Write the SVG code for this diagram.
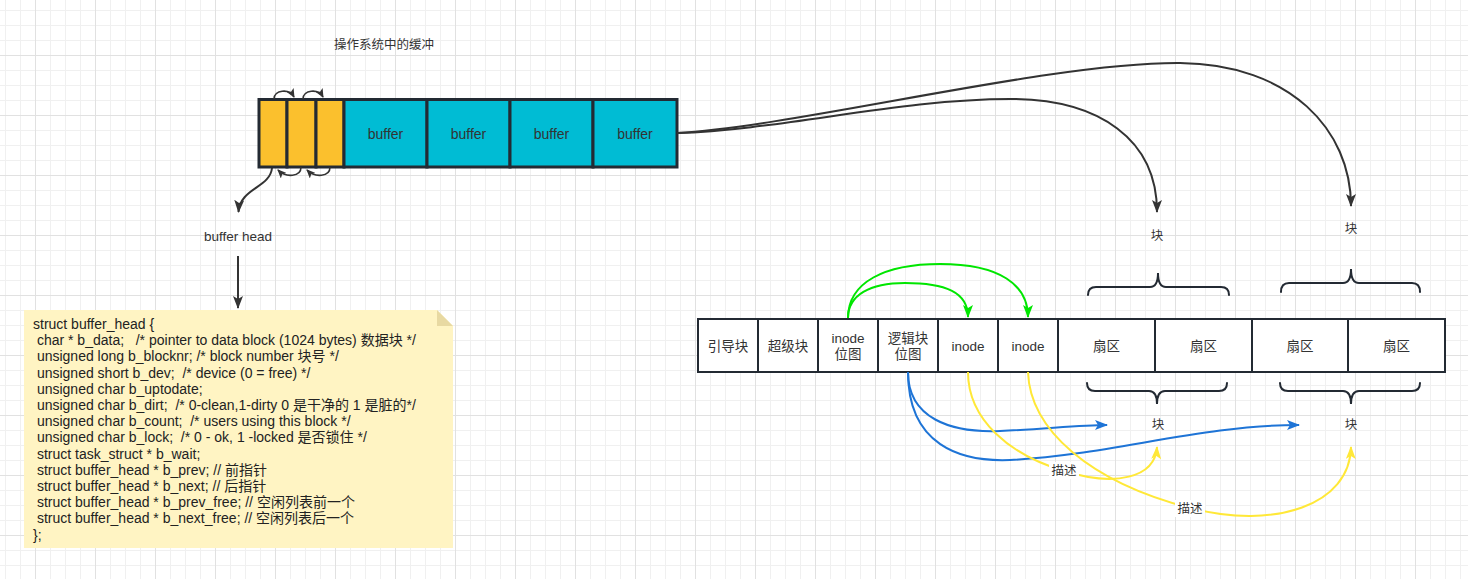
<svg xmlns="http://www.w3.org/2000/svg" width="1468" height="579" viewBox="0 0 1468 579">
  <defs>
    <pattern id="grid" x="35" y="55" width="60" height="60" patternUnits="userSpaceOnUse">
      <rect width="60" height="60" fill="#ffffff"/>
      <path d="M15.5 0V60M30.5 0V60M45.5 0V60M0 15.5H60M0 30.5H60M0 45.5H60" stroke="#f0f0f0" stroke-width="1" fill="none"/>
      <path d="M0.5 0V60M0 0.5H60" stroke="#e1e1e1" stroke-width="1" fill="none"/>
    </pattern>
    <marker id="arrDark" markerUnits="userSpaceOnUse" markerWidth="14" markerHeight="10" refX="12" refY="5" orient="auto">
      <path d="M0,0 L13,5 L0,10 L3,5 Z" fill="#333333"/>
    </marker>
    <marker id="arrSmall" markerUnits="userSpaceOnUse" markerWidth="10" markerHeight="8" refX="8" refY="4" orient="auto">
      <path d="M0,0 L9,4 L0,8 L2,4 Z" fill="#333333"/>
    </marker>
    <marker id="arrGreen" markerUnits="userSpaceOnUse" markerWidth="14" markerHeight="10" refX="12" refY="5" orient="auto">
      <path d="M0,0 L13,5 L0,10 L3,5 Z" fill="#00e600"/>
    </marker>
    <marker id="arrBlue" markerUnits="userSpaceOnUse" markerWidth="14" markerHeight="10" refX="12" refY="5" orient="auto">
      <path d="M0,0 L13,5 L0,10 L3,5 Z" fill="#1e74d6"/>
    </marker>
    <marker id="arrYellow" markerUnits="userSpaceOnUse" markerWidth="14" markerHeight="10" refX="12" refY="5" orient="auto">
      <path d="M0,0 L13,5 L0,10 L3,5 Z" fill="#ffe838"/>
    </marker>
  </defs>
  <style>
    text { font-family: "Liberation Sans", "Noto Sans CJK SC", sans-serif; fill: #333333; }
    .lbl { font-size: 13.5px; text-anchor: middle; dominant-baseline: central; }
    .code { font-size: 14px; fill: #222222; }
    .hdr { fill: #fbc02d; stroke: #232a33; stroke-width: 3; }
    .buf { fill: #00bcd4; stroke: #232a33; stroke-width: 3; }
    .cell { fill: #ffffff; stroke: #232a33; stroke-width: 2; }
    .brace { fill: none; stroke: #232a33; stroke-width: 2; stroke-linecap: round; }
    .link { fill: none; stroke-width: 2; }
    .dark { stroke: #333333; marker-end: url(#arrDark); }
    .small { stroke: #333333; stroke-width: 1.6; marker-end: url(#arrSmall); }
    .green { stroke: #00e600; marker-end: url(#arrGreen); }
    .blue { stroke: #1e74d6; marker-end: url(#arrBlue); }
    .yellow { stroke: #ffe838; marker-end: url(#arrYellow); }
  </style>

  <rect width="1468" height="579" fill="url(#grid)"/>

  <!-- caption above the buffer row -->
  <g id="title">
    <text class="lbl" x="384" y="45" style="font-size:12.5px">操作系统中的缓冲</text>
  </g>

  <!-- buffer heads + data buffers -->
  <g id="buffer-row">
    <rect class="hdr" x="259" y="99.5" width="28" height="67.5"/>
    <rect class="hdr" x="287" y="99.5" width="29" height="67.5"/>
    <rect class="hdr" x="316" y="99.5" width="28" height="67.5"/>
    <rect class="buf" x="344" y="99.5" width="83" height="67.5"/>
    <rect class="buf" x="427" y="99.5" width="83" height="67.5"/>
    <rect class="buf" x="510" y="99.5" width="83" height="67.5"/>
    <rect class="buf" x="593" y="99.5" width="84" height="67.5"/>
    <text class="lbl" x="385.5" y="134" style="font-size:14px">buffer</text>
    <text class="lbl" x="468.5" y="134" style="font-size:14px">buffer</text>
    <text class="lbl" x="551.5" y="134" style="font-size:14px">buffer</text>
    <text class="lbl" x="635" y="134" style="font-size:14px">buffer</text>
  </g>

  <g id="buffer-head-label">
    <text class="lbl" x="238" y="236">buffer head</text>
  </g>

  <!-- struct buffer_head note -->
  <g id="struct-note">
    <path d="M24 310 H437 L453 326 V548 H24 Z" fill="#fff4c3"/>
    <path d="M437 310 V326 H453 Z" fill="#e8d9a2"/>
    <text class="code" xml:space="preserve">
      <tspan x="33" y="329">struct buffer_head {</tspan>
      <tspan x="33" y="345.2"> char * b_data;   /* pointer to data block (1024 bytes) 数据块 */</tspan>
      <tspan x="33" y="361.4"> unsigned long b_blocknr; /* block number 块号 */</tspan>
      <tspan x="33" y="377.6"> unsigned short b_dev;  /* device (0 = free) */</tspan>
      <tspan x="33" y="393.8"> unsigned char b_uptodate;</tspan>
      <tspan x="33" y="410"> unsigned char b_dirt;  /* 0-clean,1-dirty 0 是干净的 1 是脏的*/</tspan>
      <tspan x="33" y="426.2"> unsigned char b_count;  /* users using this block */</tspan>
      <tspan x="33" y="442.4"> unsigned char b_lock;  /* 0 - ok, 1 -locked 是否锁住 */</tspan>
      <tspan x="33" y="458.6"> struct task_struct * b_wait;</tspan>
      <tspan x="33" y="474.8"> struct buffer_head * b_prev; // 前指针</tspan>
      <tspan x="33" y="491"> struct buffer_head * b_next; // 后指针</tspan>
      <tspan x="33" y="507.2"> struct buffer_head * b_prev_free; // 空闲列表前一个</tspan>
      <tspan x="33" y="523.4"> struct buffer_head * b_next_free; // 空闲列表后一个</tspan>
      <tspan x="33" y="539.6">};</tspan>
    </text>
  </g>

  <!-- disk layout -->
  <g id="disk-row">
    <rect class="cell" x="698" y="319" width="60" height="53"/>
    <rect class="cell" x="758" y="319" width="60" height="53"/>
    <rect class="cell" x="818" y="319" width="60" height="53"/>
    <rect class="cell" x="878" y="319" width="60" height="53"/>
    <rect class="cell" x="938" y="319" width="60" height="53"/>
    <rect class="cell" x="998" y="319" width="60" height="53"/>
    <rect class="cell" x="1058" y="319" width="97" height="53"/>
    <rect class="cell" x="1155" y="319" width="97" height="53"/>
    <rect class="cell" x="1252" y="319" width="96" height="53"/>
    <rect class="cell" x="1348" y="319" width="97" height="53"/>
    <text class="lbl" x="728" y="346">引导块</text>
    <text class="lbl" x="788" y="346">超级块</text>
    <text class="lbl" x="848" y="338">inode</text>
    <text class="lbl" x="848" y="354">位图</text>
    <text class="lbl" x="908" y="338">逻辑块</text>
    <text class="lbl" x="908" y="354">位图</text>
    <text class="lbl" x="968" y="346">inode</text>
    <text class="lbl" x="1028" y="346">inode</text>
    <text class="lbl" x="1106.5" y="346">扇区</text>
    <text class="lbl" x="1203.5" y="346">扇区</text>
    <text class="lbl" x="1300" y="346">扇区</text>
    <text class="lbl" x="1396.5" y="346">扇区</text>
  </g>

  <!-- braces grouping two sectors into one block -->
  <g id="braces">
    <path class="brace" d="M1088 295 Q1088 287 1096 287 H1150 Q1158 287 1158 273 Q1158 287 1166 287 H1221 Q1229 287 1229 295"/>
    <path class="brace" d="M1281 292 Q1281 283 1289 283 H1343 Q1351 283 1351 269 Q1351 283 1359 283 H1412 Q1420 283 1420 292"/>
    <path class="brace" d="M1087 383 Q1087 391 1095 391 H1149 Q1157 391 1157 404 Q1157 391 1165 391 H1219 Q1227 391 1227 383"/>
    <path class="brace" d="M1280 383 Q1280 391 1288 391 H1343 Q1351 391 1351 404 Q1351 391 1359 391 H1412 Q1420 391 1420 383"/>
  </g>

  <g id="block-labels">
    <text class="lbl" x="1157" y="236" style="font-size:12.5px">块</text>
    <text class="lbl" x="1351" y="229" style="font-size:12.5px">块</text>
    <text class="lbl" x="1158" y="425" style="font-size:12.5px">块</text>
    <text class="lbl" x="1351" y="425" style="font-size:12.5px">块</text>
  </g>

  <!-- connectors -->
  <g id="connectors">
    <!-- links between buffer heads -->
    <path class="link small" d="M274 99 C274 90 289 88 294 97"/>
    <path class="link small" d="M303 99 C303 90 318 88 323 97"/>
    <path class="link small" d="M301 167 C301 177 286 178 278 170"/>
    <path class="link small" d="M330 167 C330 177 315 178 307 170"/>
    <!-- head to struct description -->
    <path class="link dark" d="M272 168 C270 188 240 188 238.5 212"/>
    <path class="link dark" d="M238 256 V308"/>
    <!-- buffer to disk blocks -->
    <path class="link dark" d="M677 133 C780 130 900 99 1010 99 C1100 99 1157 140 1157 212"/>
    <path class="link dark" d="M677 133 C800 126 1050 62 1180 63 C1290 64 1351 130 1351 206"/>
    <!-- inode bitmap to inodes -->
    <path class="link green" d="M848 318 C848 295 870 283 905 283 C945 283 968 292 968 317"/>
    <path class="link green" d="M848 318 C848 282 885 264 940 264 C1000 264 1028 285 1028 317"/>
    <!-- logical block bitmap to blocks -->
    <path class="link blue" d="M908 372 C908 418 950 433 1000 431 C1045 429 1080 425 1107 425"/>
    <path class="link blue" d="M908 372 C908 445 960 462 1010 460 C1110 455 1200 425 1299 425"/>
    <!-- inodes describe blocks -->
    <path class="link yellow" d="M968 372 C968 420 1010 455 1064 471 C1115 487 1155 478 1157 447"/>
    <path class="link yellow" d="M1028 372 C1030 430 1090 482 1190 508 C1275 530 1350 505 1351 447"/>
    <rect x="1049" y="462" width="30" height="17" fill="#ffffff"/>
    <text class="lbl" x="1064" y="471" style="font-size:12.5px">描述</text>
    <rect x="1175" y="500" width="30" height="17" fill="#ffffff"/>
    <text class="lbl" x="1190" y="509" style="font-size:12.5px">描述</text>
  </g>
</svg>
